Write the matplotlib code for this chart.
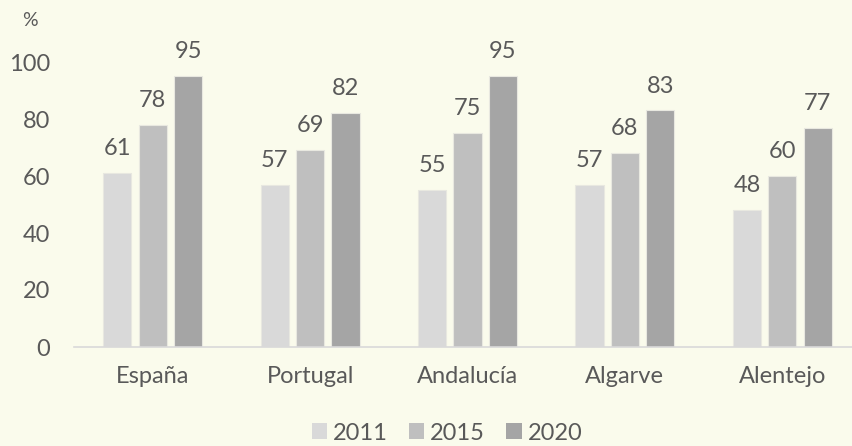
import matplotlib.pyplot as plt
import numpy as np

categories = ["España", "Portugal", "Andalucía", "Algarve", "Alentejo"]
years = ["2011", "2015", "2020"]
values_2011 = [61, 57, 55, 57, 48]
values_2015 = [78, 69, 75, 68, 60]
values_2020 = [95, 82, 95, 83, 77]
yticks = [0, 20, 40, 60, 80, 100]

BG = "#FAFBEC"
TEXT = "#595959"
COLORS = ["#D9D9D9", "#BFBFBF", "#A5A5A5"]
FS = 17

plt.rcParams["font.family"] = ["Lato", "DejaVu Sans"]

fig = plt.figure(figsize=(8.52, 4.46), dpi=100, facecolor=BG)
# axes extends slightly past the right edge, like the source
ax = fig.add_axes([74 / 852, 1 - 347 / 446, 787 / 852, 285 / 446])
ax.set_facecolor(BG)

x = np.arange(len(categories))
width = 0.18
step = 0.225
series = [values_2011, values_2015, values_2020]
for i, (vals, year) in enumerate(zip(series, years)):
    bars = ax.bar(x + (i - 1) * step, vals, width, color=COLORS[i],
                  edgecolor="#E8E8E0", linewidth=0.8, label=year, zorder=2)
    for b, v in zip(bars, vals):
        ax.annotate(str(v), (b.get_x() + b.get_width() / 2, v),
                    xytext=(0, 10), textcoords="offset points",
                    ha="center", va="bottom", fontsize=FS, color=TEXT)

ax.set_xlim(-0.5, len(categories) - 0.5)
ax.set_ylim(0, 100)
ax.set_yticks(yticks)
ax.set_xticks(x)
ax.set_xticklabels(categories)
ax.tick_params(axis="both", length=0, labelsize=FS, labelcolor=TEXT)
ax.tick_params(axis="x", pad=14)
ax.tick_params(axis="y", pad=17)
for side in ["top", "right", "left"]:
    ax.spines[side].set_visible(False)
ax.spines["bottom"].set_color("#D9D9D9")
ax.spines["bottom"].set_linewidth(1.2)
ax.spines["bottom"].set_clip_on(False)

fig.text(22 / 852, 1 - 20 / 446, "%", fontsize=14, color=TEXT, va="center")

leg = fig.legend(loc="center", bbox_to_anchor=(447 / 852, 1 - 433 / 446), ncol=3,
                 frameon=False, fontsize=FS, handlelength=0.65, handleheight=0.65,
                 handletextpad=0.25, columnspacing=0.9, labelcolor=TEXT)
for h in leg.legend_handles:
    h.set_edgecolor("none")

fig.savefig("out.png", dpi=100, facecolor=BG)
